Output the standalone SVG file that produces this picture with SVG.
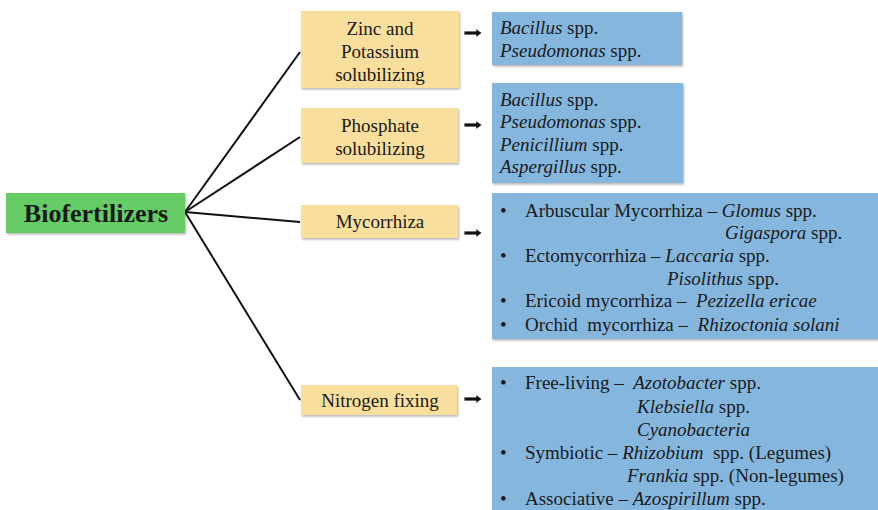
<svg xmlns="http://www.w3.org/2000/svg" width="878" height="510" viewBox="0 0 878 510" font-family="'Liberation Serif', 'Times New Roman', 'DejaVu Serif', serif">
<defs>
<filter id="sh" x="-5%" y="-10%" width="110%" height="125%">
<feDropShadow dx="1" dy="1.5" stdDeviation="1.2" flood-color="#000" flood-opacity="0.3"/>
</filter>
<path id="arr" d="M0,-2 L12,-2 L12,-4.5 L18,0 L12,4.5 L12,2 L0,2 Z"/>
</defs>
<style>
text{font-family:'Liberation Serif','Times New Roman','DejaVu Serif',serif;fill:#1a1a1a;font-size:19px}
.y{fill:#F9DF9D}
.b{fill:#85B7DE}
.g{fill:#66CC66}
.c{text-anchor:middle}
.i{font-style:italic}
.conn line{stroke:#111;stroke-width:2}
.arrow{fill:#111;stroke:#fff;stroke-width:0.8}
</style>
<rect width="878" height="510" fill="#fff"/>
<g class="conn" id="connectors">
<line x1="185" y1="212" x2="300" y2="52"/>
<line x1="185" y1="212" x2="300" y2="137"/>
<line x1="185" y1="212" x2="300" y2="222"/>
<line x1="185" y1="212" x2="300" y2="400"/>
<use href="#arr" class="arrow" x="464" y="33"/>
<use href="#arr" class="arrow" x="464" y="125"/>
<use href="#arr" class="arrow" x="464" y="233"/>
<use href="#arr" class="arrow" x="464" y="399"/>
</g>
<g id="root">
<rect class="g" x="6" y="193" width="179" height="40" filter="url(#sh)"/>
<text class="c" x="96" y="222" font-size="26" font-weight="bold" style="font-size:26px">Biofertilizers</text>
</g>
<g id="zinc">
<rect class="y" x="301" y="11" width="158" height="77" filter="url(#sh)"/>
<text class="c" x="380" y="35">Zinc and</text>
<text class="c" x="380" y="58">Potassium</text>
<text class="c" x="380" y="81">solubilizing</text>
</g>
<g id="phosphate">
<rect class="y" x="301" y="108" width="157" height="55" filter="url(#sh)"/>
<text class="c" x="380" y="132">Phosphate</text>
<text class="c" x="380" y="155">solubilizing</text>
</g>
<g id="myco">
<rect class="y" x="301" y="205" width="157" height="33" filter="url(#sh)"/>
<text class="c" x="380" y="228">Mycorrhiza</text>
</g>
<g id="nitrogen">
<rect class="y" x="301" y="385" width="156" height="30" filter="url(#sh)"/>
<text class="c" x="380" y="407">Nitrogen fixing</text>
</g>
<g id="zinc-list">
<rect class="b" x="492" y="12" width="190" height="53" filter="url(#sh)"/>
<text x="500" y="34"><tspan class="i">Bacillus</tspan> spp.</text>
<text x="500" y="57"><tspan class="i">Pseudomonas</tspan> spp.</text>
</g>
<g id="phosphate-list">
<rect class="b" x="492" y="83" width="191" height="100" filter="url(#sh)"/>
<text x="500" y="106"><tspan class="i">Bacillus</tspan> spp.</text>
<text x="500" y="128"><tspan class="i">Pseudomonas</tspan> spp.</text>
<text x="500" y="151"><tspan class="i">Penicillium</tspan> spp.</text>
<text x="500" y="173"><tspan class="i">Aspergillus</tspan> spp.</text>
</g>
<g id="myco-list">
<rect class="b" x="492" y="193" width="390" height="146" filter="url(#sh)"/>
<text x="500" y="217">•</text>
<text x="525" y="217">Arbuscular Mycorrhiza – <tspan class="i">Glomus</tspan> spp.</text>
<text x="725" y="239"><tspan class="i">Gigaspora</tspan> spp.</text>
<text x="500" y="262">•</text>
<text x="525" y="262">Ectomycorrhiza – <tspan class="i">Laccaria</tspan> spp.</text>
<text x="667" y="285"><tspan class="i">Pisolithus</tspan> spp.</text>
<text x="500" y="307">•</text>
<text x="525" y="307">Ericoid mycorrhiza –&#160; <tspan class="i">Pezizella ericae</tspan></text>
<text x="500" y="331">•</text>
<text x="525" y="331">Orchid&#160; mycorrhiza –&#160; <tspan class="i">Rhizoctonia solani</tspan></text>
</g>
<g id="nitrogen-list">
<rect class="b" x="492" y="367" width="390" height="150" filter="url(#sh)"/>
<text x="500" y="389">•</text>
<text x="525" y="389">Free-living –&#160; <tspan class="i">Azotobacter</tspan> spp.</text>
<text x="637" y="413"><tspan class="i">Klebsiella</tspan> spp.</text>
<text x="637" y="436"><tspan class="i">Cyanobacteria</tspan></text>
<text x="500" y="459">•</text>
<text x="525" y="459">Symbiotic – <tspan class="i">Rhizobium</tspan>&#160; spp. (Legumes)</text>
<text x="627" y="482"><tspan class="i">Frankia</tspan> spp. (Non-legumes)</text>
<text x="500" y="505">•</text>
<text x="525" y="505">Associative – <tspan class="i">Azospirillum</tspan> spp.</text>
</g>
</svg>
